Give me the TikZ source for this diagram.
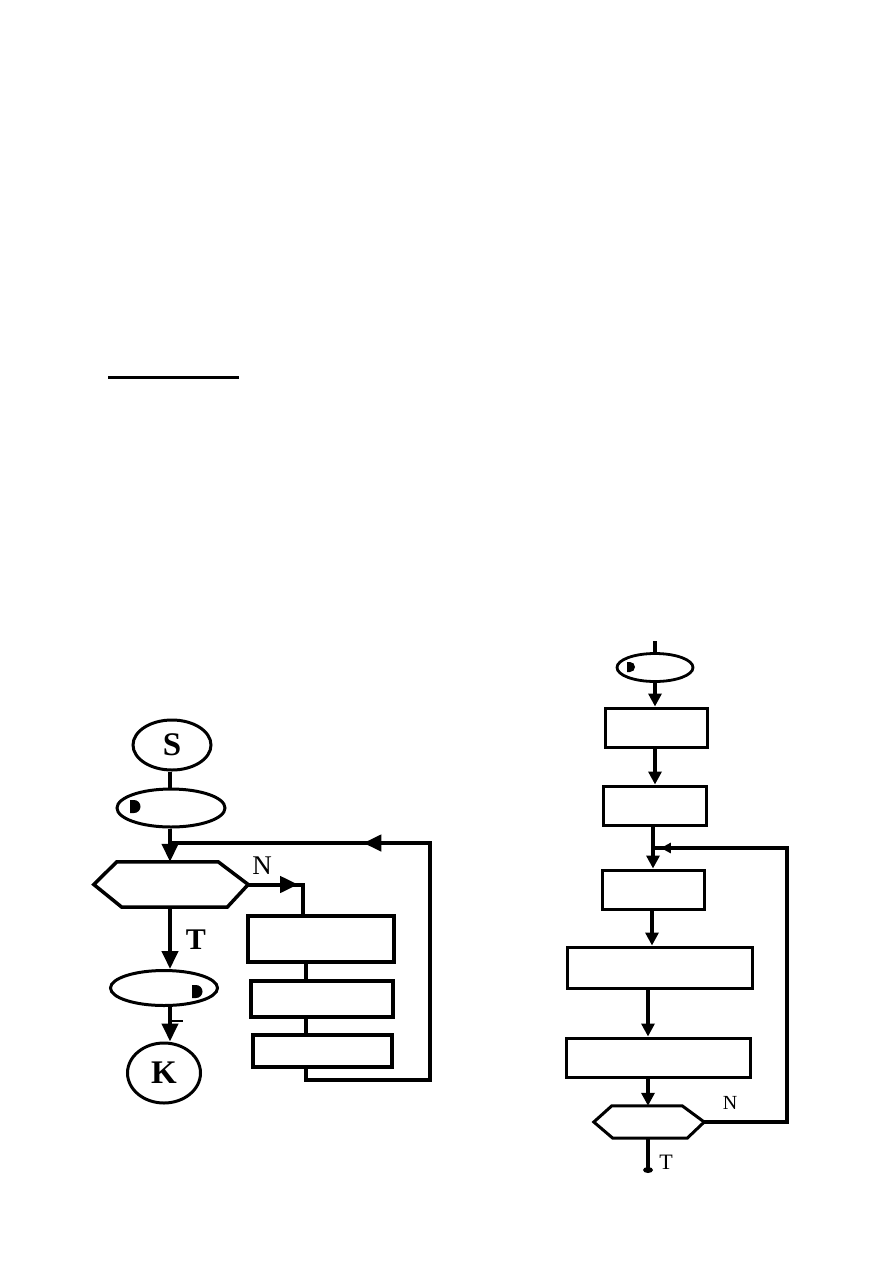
\documentclass[tikz,border=0pt]{standalone}
\usepackage{fontspec}
\setmainfont{Liberation Serif}
\usetikzlibrary{shapes.geometric,arrows.meta,decorations.markings,calc}
\begin{document}
\begin{tikzpicture}[x=1pt,y=-1pt,
  thickL/.style={line width=4pt},
  thickR/.style={line width=3.2pt},
  ovalL/.style={ellipse,draw,line width=3pt,inner sep=0pt},
  ovalR/.style={ellipse,draw,line width=2.8pt,inner sep=0pt},
  boxL/.style={rectangle,draw,line width=3.5pt,inner sep=0pt},
  boxR/.style={rectangle,draw,line width=3pt,inner sep=0pt},
  ghost/.style={rectangle,inner sep=0pt,draw=none},
  bigtip/.style={-{Triangle[length=18pt,width=16pt]}},
  smalltip/.style={-{Triangle[length=13pt,width=13pt]}},
  marktipL/.style={postaction={decorate,decoration={markings,mark=at position #1 with {\arrow{Triangle[length=18pt,width=16pt]}}}}},
  marktipR/.style={postaction={decorate,decoration={markings,mark=at position #1 with {\arrow{Triangle[length=10pt,width=10pt]}}}}},
  bigfont/.style={font=\fontsize{33}{33}\selectfont\bfseries},
]
\path[use as bounding box, fill=white] (0,0) rectangle (893,1263);

% underline
\coordinate (U1) at (108,377);
\coordinate (U2) at (239,377);
\draw[line width=3pt] (U1) -- (U2);

% ---------------- left diagram ----------------
\node[ovalL,minimum width=78pt,minimum height=50pt,bigfont] (S) at (172,745) {S};
\node[ovalL,minimum width=108pt,minimum height=38pt] (E1) at (171,808) {};
\node[ghost,minimum width=154pt,minimum height=45pt] (H) at (171,884.5) {};
\draw[line width=3.5pt,line join=miter] (H.west) -- ($(H.north west)+(23,0)$) -- ($(H.north east)+(-30,0)$) -- (H.east) -- ($(H.south east)+(-21,0)$) -- ($(H.south west)+(28,0)$) -- cycle;
\node[ovalL,minimum width=107pt,minimum height=35pt] (E2) at (164,988) {};
\node[ovalL,minimum width=73pt,minimum height=60pt,bigfont] (K) at (164,1073) {K};
\node[boxL,minimum width=146pt,minimum height=46pt] (B1) at (321,939) {};
\node[boxL,minimum width=142pt,minimum height=36pt] (B2) at (322,999) {};
\node[boxL,minimum width=139pt,minimum height=32pt] (B3) at (322.5,1051) {};

\coordinate (lx) at (170,0);
\coordinate (J) at (170,843);
\coordinate (colx) at (306,0);
\coordinate (colN) at (303,0);
\coordinate (LoopA) at (306,1080);
\coordinate (LoopB) at (430,1080);
\coordinate (LoopC) at (430,843);

\draw[thickL] (S.south -| lx) -- (E1.north -| lx);
\draw[thickL,bigtip] (E1.south -| lx) -- (H.north -| lx);
\draw[thickL,marktipL=439pt] (B3.south -| colx) -- (LoopA) -- (LoopB) -- (LoopC) -- (J);
\draw[thickL,marktipL=50pt] (H.east) -| (B1.north -| colN);
\draw[thickL] (B1.south -| colx) -- (B2.north -| colx);
\draw[thickL] (B2.south -| colx) -- (B3.north -| colx);
\draw[thickL,bigtip] (H.south -| lx) -- (E2.north -| lx);
\draw[thickL,bigtip] (E2.south -| lx) -- (K.north -| lx);
\draw[line width=2pt] (168,1021) -- (183,1021);

\node[font=\fontsize{30}{30}\selectfont\bfseries] (T1) at (196,940) {T};
\node[font=\fontsize{27}{27}\selectfont] (N1) at (262,866) {N};

\fill (130,800) -- (134,800) arc[start angle=90,end angle=-90,radius=6.5pt] -- (130,813) -- cycle;
\fill (192,985) -- (196,985) arc[start angle=90,end angle=-90,radius=6.5pt] -- (192,998) -- cycle;

% ---------------- right diagram ----------------
\node[ovalR,minimum width=76pt,minimum height=28pt] (RE) at (655,667.5) {};
\node[boxR,minimum width=102pt,minimum height=39pt] (R1) at (656,727.5) {};
\node[boxR,minimum width=103pt,minimum height=39pt] (R2) at (654.5,805.5) {};
\node[boxR,minimum width=102pt,minimum height=39pt] (R3) at (653,889.5) {};
\node[boxR,minimum width=185pt,minimum height=41pt] (R4) at (659.5,967.5) {};
\node[boxR,minimum width=184pt,minimum height=39pt] (R5) at (658,1057.5) {};
\node[ghost,minimum width=110pt,minimum height=32pt] (RH) at (649,1122) {};
\draw[line width=3pt,line join=miter] (RH.west) -- ($(RH.north west)+(18,0)$) -- ($(RH.north east)+(-22,0)$) -- (RH.east) -- ($(RH.south east)+(-17,0)$) -- ($(RH.south west)+(19,0)$) -- cycle;

\coordinate (rx1) at (655,0);
\coordinate (rx2) at (653,0);
\coordinate (rx3) at (652,0);
\coordinate (rx4) at (648,0);
\coordinate (RT) at (655,641);
\coordinate (RJ) at (653,848);
\coordinate (RL1) at (787,1122);
\coordinate (RL2) at (787,848);
\coordinate (RB) at (648,1170);

\draw[thickR] (RT) -- (RE.north);
\draw[thickR,smalltip] (RE.south -| rx1) -- (R1.north -| rx1);
\draw[thickR,smalltip] (R1.south -| rx1) -- (R2.north -| rx1);
\draw[thickR,smalltip] (R2.south -| rx2) -- (R3.north -| rx2);
\draw[thickR,smalltip] (R3.south -| rx3) -- (R4.north -| rx3);
\draw[thickR,smalltip] (R4.south -| rx4) -- (R5.north -| rx4);
\draw[thickR,smalltip] (R5.south -| rx4) -- (RH.north -| rx4);
\draw[thickR,marktipR=483pt] (RH.east) -- (RL1) -- (RL2) -- (RJ);
\draw[thickR] (RH.south -| rx4) -- (RB);
\fill (RB) ellipse[x radius=5pt, y radius=3pt];

\node[font=\fontsize{20}{20}\selectfont] (N2) at (730,1103) {N};
\node[font=\fontsize{22}{22}\selectfont] (T2) at (666,1162) {T};

\fill (627,662) -- (630,662) arc[start angle=90,end angle=-90,radius=5pt] -- (627,672) -- cycle;
\end{tikzpicture}
\end{document}
